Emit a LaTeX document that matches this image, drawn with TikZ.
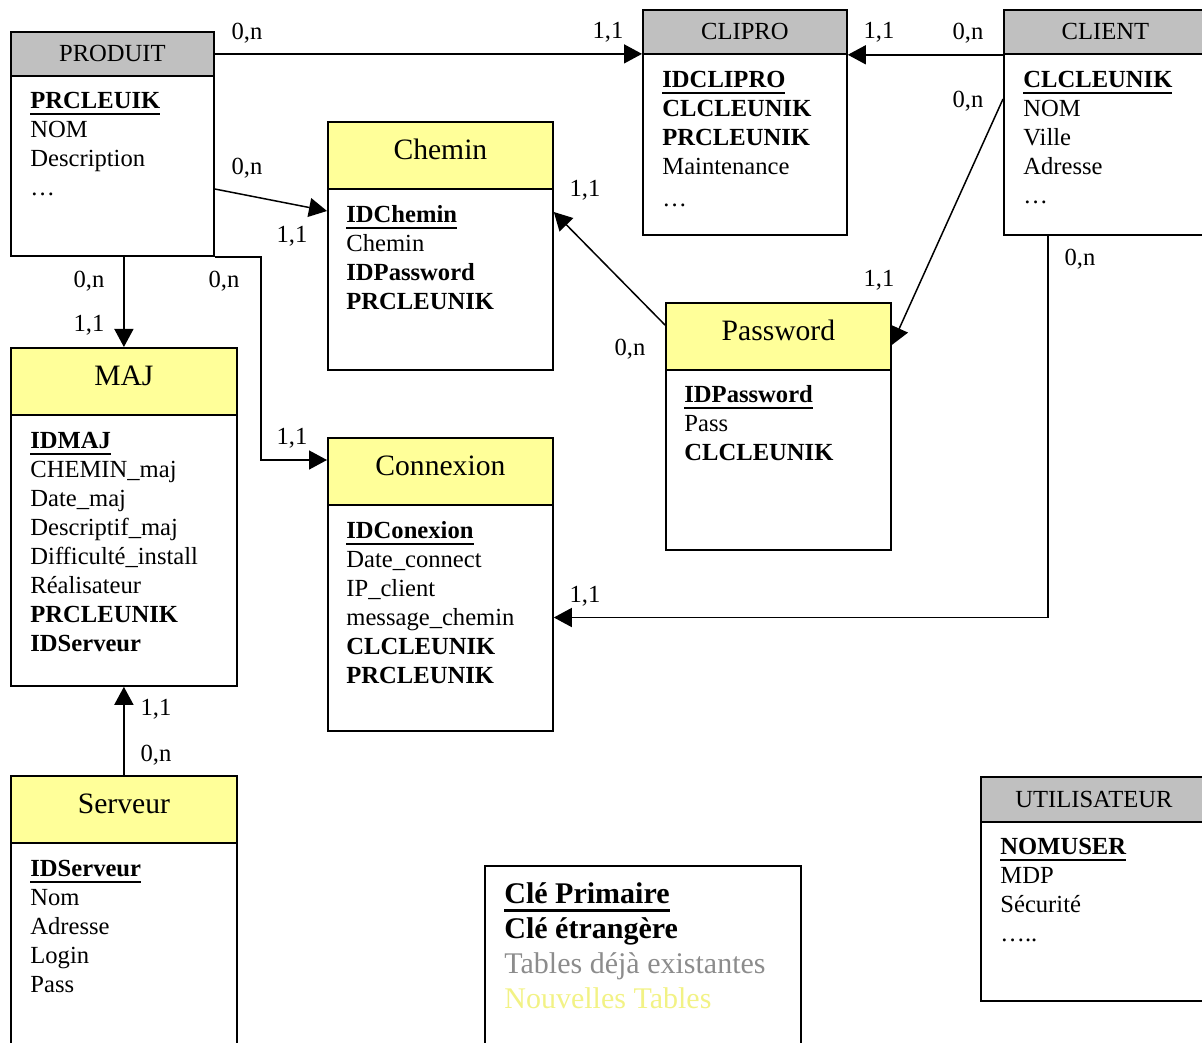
\documentclass[tikz,border=0pt]{standalone}
\usepackage{fontspec}
\setmainfont{Liberation Serif}
\usetikzlibrary{arrows.meta,calc}
\definecolor{hdrgray}{HTML}{C0C0C0}
\definecolor{hdryel}{HTML}{FFFF99}
\definecolor{legray}{HTML}{8C8C8C}
\definecolor{legyel}{HTML}{F2F285}
\newcommand\pkey[1]{{\setbox0=\hbox{\bfseries #1}\rlap{\rule[-0.27em]{\wd0}{0.1em}}\box0}}
\tikzset{
  bodyfont/.style={font=\fontsize{12.3}{14.5}\selectfont},
  tbox/.style={draw, line width=0.9pt, inner sep=0pt, anchor=north west},
  grayhdr/.style={tbox, fill=hdrgray, bodyfont},
  yelhdr/.style={tbox, fill=hdryel, font=\fontsize{14.8}{17}\selectfont, text height=0.7em, text depth=0.31em},
  attrs/.style={anchor=north west, inner sep=0pt, align=left, bodyfont},
  card/.style={inner sep=0pt, bodyfont},
  conn/.style={line width=0.75pt, -{Triangle[length=9pt,width=9.5pt]}},
}
\begin{document}
\begin{tikzpicture}[x=0.5pt,y=-0.5pt]
\useasboundingbox (0,0) rectangle (1202,1042);
\clip (0,0) rectangle (1202,1042);

% ---------- PRODUIT
\node[grayhdr, minimum width=101.5pt, minimum height=22pt] (produitT) at (10,31) {PRODUIT};
\node[tbox, minimum width=101.5pt, minimum height=90pt] (produit) at (10,75) {};
\node[attrs] (produitA) at (30,88) {\strut\pkey{PRCLEUIK}\\NOM\\Description\\…};

% ---------- CLIPRO
\node[grayhdr, minimum width=102pt, minimum height=22pt] (cliproT) at (642,9) {CLIPRO};
\node[tbox, minimum width=102pt, minimum height=90.5pt] (clipro) at (642,53) {};
\node[attrs] (cliproA) at (662,67) {\strut\pkey{IDCLIPRO}\\\textbf{CLCLEUNIK}\\\textbf{PRCLEUNIK}\\Maintenance\\[1.5pt]…};

% ---------- CLIENT
\node[grayhdr, minimum width=101.5pt, minimum height=22pt] (clientT) at (1003,9) {CLIENT};
\node[tbox, minimum width=101.5pt, minimum height=90.5pt] (client) at (1003,53) {};
\node[attrs] (clientA) at (1023,67) {\strut\pkey{CLCLEUNIK}\\NOM\\Ville\\Adresse\\…};

% ---------- Chemin
\node[yelhdr, minimum width=112.5pt, minimum height=33.5pt] (cheminT) at (327,121) {Chemin};
\node[tbox, minimum width=112.5pt, minimum height=90.5pt] (chemin) at (327,188) {};
\node[attrs] (cheminA) at (346,202) {\strut\pkey{IDChemin}\\Chemin\\\textbf{IDPassword}\\\textbf{PRCLEUNIK}};

% ---------- MAJ
\node[yelhdr, minimum width=113pt, minimum height=33.5pt] (majT) at (10,347) {MAJ};
\node[tbox, minimum width=113pt, minimum height=135.5pt] (maj) at (10,414) {};
\node[attrs] (majA) at (30,428) {\strut\pkey{IDMAJ}\\CHEMIN\_maj\\Date\_maj\\Descriptif\_maj\\Difficulté\_install\\Réalisateur\\\textbf{PRCLEUNIK}\\\textbf{IDServeur}};

% ---------- Connexion
\node[yelhdr, minimum width=112.5pt, minimum height=33.5pt] (connexionT) at (327,437) {Connexion};
\node[tbox, minimum width=112.5pt, minimum height=113pt] (connexion) at (327,504) {};
\node[attrs] (connexionA) at (346,518) {\strut\pkey{IDConexion}\\Date\_connect\\IP\_client\\message\_chemin\\\textbf{CLCLEUNIK}\\\textbf{PRCLEUNIK}};

% ---------- Password
\node[yelhdr, minimum width=112.5pt, minimum height=33.5pt] (passwordT) at (665,302) {Password};
\node[tbox, minimum width=112.5pt, minimum height=90pt] (password) at (665,369) {};
\node[attrs] (passwordA) at (684,382) {\strut\pkey{IDPassword}\\Pass\\\textbf{CLCLEUNIK}};

% ---------- Serveur
\node[yelhdr, minimum width=113pt, minimum height=33.5pt] (serveurT) at (10,775) {Serveur};
\node[tbox, minimum width=113pt, minimum height=115pt] (serveur) at (10,842) {};
\node[attrs] (serveurA) at (30,856) {\strut\pkey{IDServeur}\\Nom\\Adresse\\Login\\Pass};

% ---------- UTILISATEUR
\node[grayhdr, minimum width=113pt, minimum height=22.5pt] (utilT) at (980,776) {UTILISATEUR};
\node[tbox, minimum width=113pt, minimum height=89.5pt] (util) at (980,821) {};
\node[attrs] (utilA) at (1000,834) {\strut\pkey{NOMUSER}\\MDP\\Sécurité\\…..};

% ---------- Legend
\node[tbox, minimum width=158pt, minimum height=100pt] (legend) at (484,865) {};
\node[anchor=north west, inner sep=0pt, align=left, font=\fontsize{15}{17.5}\selectfont] (legendA) at (504,878.5)
  {\strut\pkey{Clé Primaire}\\\textbf{Clé étrangère}\\\textcolor{legray}{Tables déjà existantes}\\\textcolor{legyel}{Nouvelles Tables}};

% ---------- Connectors
\draw[conn] (produitT.east) -- (produitT.east -| cliproT.west);
\draw[conn] (clientT.south west) -- (clientT.south west -| cliproT.east);
\draw[conn] ([yshift=-57pt]produit.north east) -- ([yshift=-11.5pt]chemin.north west);
\draw[conn] (produit.south -| majT.north) -- (majT.north);
\coordinate (pcBend) at ([xshift=23pt]produit.south east);
\draw[conn] (produit.south east) -- (pcBend) |- ([yshift=-11.5pt]connexionT.north west);
\draw[conn] ([yshift=-11.5pt]passwordT.north west) -- ([yshift=-12pt]chemin.north east);
\draw[conn] ([yshift=-23pt]client.north west) -- ([yshift=-21.5pt]passwordT.north east);
\draw[conn] ([xshift=22.5pt]client.south west) |- ([yshift=-56.75pt]connexion.north east);
\draw[conn] (serveurT.north) -- (maj.south);

% ---------- Cardinalities
\node[card] (k1) at (247,33) {0,n};
\node[card] (k2) at (608,32) {1,1};
\node[card] (k3) at (879,32) {1,1};
\node[card] (k4) at (968,33) {0,n};
\node[card] (k5) at (968,101) {0,n};
\node[card] (k6) at (247,168) {0,n};
\node[card] (k7) at (292,236) {1,1};
\node[card] (k8) at (585,190) {1,1};
\node[card] (k9) at (89,281) {0,n};
\node[card] (k10) at (224,281) {0,n};
\node[card] (k11) at (89,325) {1,1};
\node[card] (k12) at (879,280) {1,1};
\node[card] (k13) at (1080,259) {0,n};
\node[card] (k14) at (630,349) {0,n};
\node[card] (k15) at (292,438) {1,1};
\node[card] (k16) at (585,596) {1,1};
\node[card] (k17) at (156,709) {1,1};
\node[card] (k18) at (156,755) {0,n};
\end{tikzpicture}
\end{document}
